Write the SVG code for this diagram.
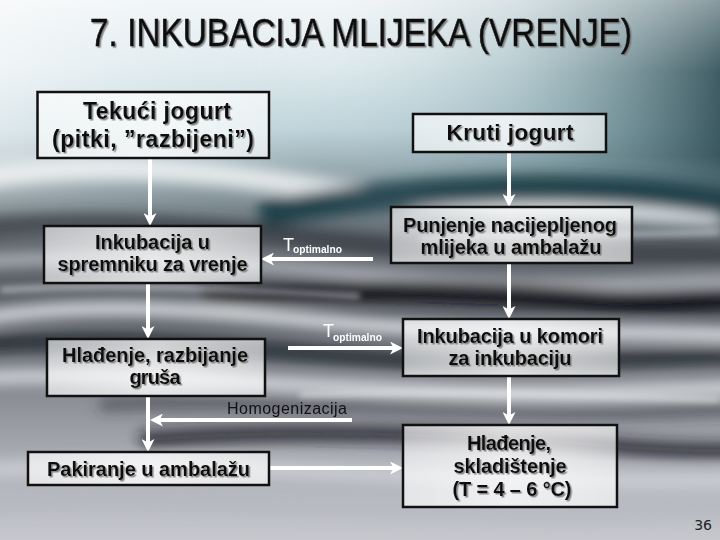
<svg xmlns="http://www.w3.org/2000/svg" width="720" height="540" viewBox="0 0 720 540">
<defs>
<linearGradient id="bgV" x1="0" y1="0" x2="0" y2="1">
<stop offset="0" stop-color="#f6f8f9"/>
<stop offset="0.12" stop-color="#e2ecef"/>
<stop offset="0.24" stop-color="#bcd2d8"/>
<stop offset="0.34" stop-color="#82949a"/>
<stop offset="0.45" stop-color="#62676f"/>
<stop offset="0.58" stop-color="#585c64"/>
<stop offset="0.72" stop-color="#868991"/>
<stop offset="0.84" stop-color="#a8aab2"/>
<stop offset="1" stop-color="#c6c8ce"/>
</linearGradient>
<linearGradient id="bgR" x1="0" y1="0" x2="1" y2="0">
<stop offset="0" stop-color="#ffffff" stop-opacity="0.5"/>
<stop offset="0.45" stop-color="#cfe3ea" stop-opacity="0.1"/>
<stop offset="0.72" stop-color="#6a9098" stop-opacity="0.35"/>
<stop offset="1" stop-color="#2e4c54" stop-opacity="0.9"/>
</linearGradient>
<linearGradient id="fadeTop" x1="0" y1="0" x2="0" y2="1">
<stop offset="0" stop-color="#fff" stop-opacity="0.6"/>
<stop offset="0.3" stop-color="#fff" stop-opacity="1"/>
<stop offset="0.65" stop-color="#fff" stop-opacity="1"/>
<stop offset="1" stop-color="#fff" stop-opacity="0"/>
</linearGradient>
<mask id="topMask"><rect x="0" y="0" width="720" height="240" fill="url(#fadeTop)"/></mask>
<linearGradient id="boxG" x1="0" y1="0" x2="1" y2="0">
<stop offset="0" stop-color="#ffffff" stop-opacity="0.62"/>
<stop offset="0.5" stop-color="#ffffff" stop-opacity="0.78"/>
<stop offset="1" stop-color="#ffffff" stop-opacity="0.62"/>
</linearGradient>
<filter id="blur" x="-10%" y="-50%" width="120%" height="200%"><feGaussianBlur stdDeviation="7"/></filter>
<filter id="blurS" x="-10%" y="-50%" width="120%" height="200%"><feGaussianBlur stdDeviation="3"/></filter>
<filter id="sh" x="-5%" y="-20%" width="115%" height="150%"><feDropShadow dx="1.5" dy="1.5" stdDeviation="0.6" flood-color="#7a7a7a" flood-opacity="0.9"/></filter>
<marker id="ah" viewBox="0 0 13 13" refX="5" refY="6.5" markerWidth="13" markerHeight="13" markerUnits="userSpaceOnUse" orient="auto">
<path d="M0,0 L13,6.5 L0,13 L3.5,6.5 z" fill="#ffffff"/>
</marker>
<style>
.box{fill:url(#boxG);stroke:#111;stroke-width:2.5}
.bt{font-family:"Liberation Sans",Arial,sans-serif;font-weight:bold;fill:#111;text-anchor:middle;filter:url(#sh)}
.title{font-family:"Liberation Sans",Arial,sans-serif;font-size:38px;fill:#111;stroke:#111;stroke-width:0.6;text-anchor:middle;filter:url(#sh)}
.con{stroke:#ffffff;stroke-width:4;fill:none}
.tl{font-family:"Liberation Sans",Arial,sans-serif;fill:#ffffff}
.hl{font-family:"Liberation Sans",Arial,sans-serif;font-size:16px;fill:#111}
.pg{font-family:"DejaVu Sans","Liberation Sans",sans-serif;font-size:14px;fill:#222}
</style>
</defs>

<g id="background">
<rect x="0" y="0" width="720" height="540" fill="url(#bgV)"/>
<rect x="0" y="0" width="720" height="240" fill="url(#bgR)" mask="url(#topMask)"/>
<g filter="url(#blur)">
<path d="M-30,180 C80,160 200,168 330,190 C420,205 520,200 720,215" stroke="#f2f4f6" stroke-width="22" fill="none" opacity="0.85"/>
<path d="M260,215 C360,195 480,185 600,190 C660,192 700,200 740,205" stroke="#1a3a44" stroke-width="28" fill="none" opacity="0.9"/>
<path d="M-20,228 C120,215 240,230 380,245 C500,258 620,250 740,255" stroke="#30353d" stroke-width="18" fill="none" opacity="0.75"/>
<path d="M-20,262 C140,250 300,270 450,280 C560,288 650,282 740,280" stroke="#d0d3d8" stroke-width="12" fill="none" opacity="0.75"/>
<path d="M200,300 C330,285 470,290 600,300 C660,305 700,300 740,298" stroke="#0e1116" stroke-width="22" fill="none" opacity="0.95"/>
<path d="M-20,318 C100,300 220,312 330,322 C460,334 600,330 740,335" stroke="#eceef1" stroke-width="14" fill="none" opacity="0.9"/>
<path d="M-20,345 C120,335 260,352 400,360 C520,366 640,358 740,355" stroke="#1c2027" stroke-width="16" fill="none" opacity="0.8"/>
<path d="M-20,378 C140,370 300,388 460,392 C580,396 660,390 740,388" stroke="#f0f2f5" stroke-width="12" fill="none" opacity="0.85"/>
<path d="M100,405 C260,398 420,408 560,412 C640,414 700,410 740,408" stroke="#30333b" stroke-width="12" fill="none" opacity="0.6"/>
<path d="M140,440 C300,428 460,435 600,445 C660,450 700,452 740,450" stroke="#15191f" stroke-width="16" fill="none" opacity="0.8"/>
<path d="M-20,470 C150,462 320,472 480,478 C600,482 680,480 740,480" stroke="#dcdee2" stroke-width="14" fill="none" opacity="0.65"/>
<path d="M-20,505 C150,498 350,508 520,512 C620,514 690,510 740,508" stroke="#b5b7be" stroke-width="14" fill="none" opacity="0.6"/>
</g>
<g filter="url(#blurS)">
<path d="M420,240 C500,232 580,238 720,232" stroke="#dfe3e8" stroke-width="4" fill="none" opacity="0.7"/>
<path d="M300,395 C420,390 560,395 720,400" stroke="#f4f5f7" stroke-width="4" fill="none" opacity="0.7"/>
<path d="M0,290 C120,282 240,290 360,296" stroke="#f0f1f4" stroke-width="5" fill="none" opacity="0.6"/>
</g>
</g>

<text class="title" x="361" y="46" textLength="542" lengthAdjust="spacingAndGlyphs">7. INKUBACIJA MLIJEKA (VRENJE)</text>

<g id="connectors">
<line class="con" x1="150" y1="158" x2="150" y2="218" marker-end="url(#ah)"/>
<line class="con" x1="148" y1="283" x2="148" y2="331" marker-end="url(#ah)"/>
<line class="con" x1="148" y1="396" x2="148" y2="444" marker-end="url(#ah)"/>
<line class="con" x1="352" y1="420" x2="158" y2="420" marker-end="url(#ah)"/>
<line class="con" x1="269" y1="468" x2="395" y2="468" marker-end="url(#ah)"/>
<line class="con" x1="509" y1="152" x2="509" y2="199" marker-end="url(#ah)"/>
<line class="con" x1="509" y1="263" x2="509" y2="311" marker-end="url(#ah)"/>
<line class="con" x1="509" y1="376" x2="509" y2="417" marker-end="url(#ah)"/>
<line class="con" x1="373" y1="259" x2="269" y2="259" marker-end="url(#ah)"/>
<line class="con" x1="288" y1="348" x2="395" y2="348" marker-end="url(#ah)"/>
<text class="tl" x="283" y="251" font-size="18">T</text>
<text class="tl" x="293" y="253" font-size="10.3" font-weight="bold" textLength="49" lengthAdjust="spacingAndGlyphs">optimalno</text>
<text class="tl" x="323" y="337" font-size="18">T</text>
<text class="tl" x="333" y="341" font-size="10.3" font-weight="bold" textLength="49" lengthAdjust="spacingAndGlyphs">optimalno</text>
<text class="hl" x="227" y="414" textLength="120" lengthAdjust="spacing">Homogenizacija</text>
</g>

<g id="n1">
<rect class="box" x="37.5" y="92" width="231.5" height="66"/>
<text class="bt" font-size="23" x="157" y="119" textLength="148" lengthAdjust="spacing">Tekući jogurt</text>
<text class="bt" font-size="23" x="153" y="147" textLength="202" lengthAdjust="spacing">(pitki, ”razbijeni”)</text>
</g>
<g id="n2">
<rect class="box" x="413" y="114" width="193" height="38"/>
<text class="bt" font-size="22.5" x="510" y="140" textLength="127" lengthAdjust="spacing">Kruti jogurt</text>
</g>
<g id="n3">
<rect class="box" x="44" y="226" width="217" height="57"/>
<text class="bt" font-size="20" x="152.5" y="249" textLength="115" lengthAdjust="spacing">Inkubacija u</text>
<text class="bt" font-size="20" x="152.5" y="271" textLength="190" lengthAdjust="spacing">spremniku za vrenje</text>
</g>
<g id="n4">
<rect class="box" x="391" y="207" width="241" height="56"/>
<text class="bt" font-size="20" x="510" y="232" textLength="214" lengthAdjust="spacing">Punjenje nacijepljenog</text>
<text class="bt" font-size="20" x="511" y="254" textLength="181" lengthAdjust="spacing">mlijeka u ambalažu</text>
</g>
<g id="n5">
<rect class="box" x="47" y="339" width="218" height="57"/>
<text class="bt" font-size="20" x="155" y="362" textLength="186" lengthAdjust="spacing">Hlađenje, razbijanje</text>
<text class="bt" font-size="20" x="155" y="384" textLength="51" lengthAdjust="spacing">gruša</text>
</g>
<g id="n6">
<rect class="box" x="403" y="319" width="216" height="57"/>
<text class="bt" font-size="20" x="510" y="343" textLength="186" lengthAdjust="spacing">Inkubacija u komori</text>
<text class="bt" font-size="20" x="510" y="365" textLength="123" lengthAdjust="spacing">za inkubaciju</text>
</g>
<g id="n7">
<rect class="box" x="28" y="452" width="241" height="33"/>
<text class="bt" font-size="20" x="148.5" y="476" textLength="203" lengthAdjust="spacing">Pakiranje u ambalažu</text>
</g>
<g id="n8">
<rect class="box" x="403" y="425" width="214" height="82"/>
<text class="bt" font-size="20" x="509" y="450" textLength="84" lengthAdjust="spacing">Hlađenje,</text>
<text class="bt" font-size="20" x="510" y="473" textLength="113" lengthAdjust="spacing">skladištenje</text>
<text class="bt" font-size="20" x="512" y="496" textLength="119" lengthAdjust="spacing">(T = 4 – 6 °C)</text>
</g>

<text class="pg" x="712" y="530" text-anchor="end">36</text>
</svg>
